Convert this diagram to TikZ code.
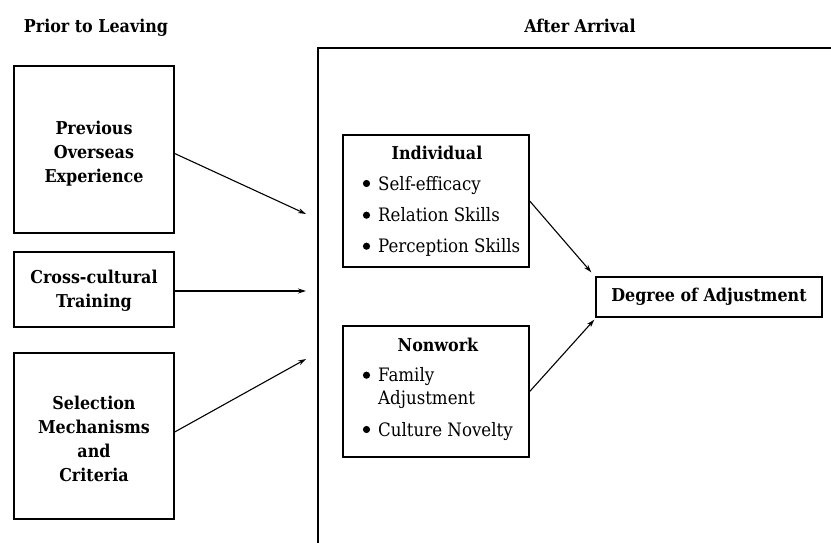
\documentclass[tikz,border=0pt]{standalone}
\usepackage{fontspec}
\setmainfont{DejaVu Serif Condensed}
\usetikzlibrary{arrows.meta}
\tikzset{
  box/.style={draw, line width=1.4pt, inner sep=0pt},
  frame/.style={line width=1.4pt},
  head/.style={font=\fontsize{17.7}{24}\selectfont\bfseries, align=center, inner sep=0pt},
  item/.style={anchor=base west, inner sep=0pt, font=\fontsize{18.5}{24}\selectfont},
  arr/.style={line width=1.1pt, -{Stealth[length=8pt,width=5pt]}},
}
\begin{document}
\begin{tikzpicture}[x=1pt,y=-1pt]
\useasboundingbox (0,0) rectangle (831,543);
% headings
\node[head, anchor=base] (hp) at (96,33) {Prior to Leaving};
\node[head, anchor=base] (ha) at (580,33) {After Arrival};
% left boxes
\node[box, minimum width=160pt, minimum height=167pt] (b1) at (94,149.5) {};
\node[head] (l1) at (94,154) {Previous\\Overseas\\Experience};
\node[box, minimum width=160pt, minimum height=75pt] (b2) at (94,289.5) {};
\node[head] (l2) at (94,291) {Cross-cultural\\Training};
\node[box, minimum width=160pt, minimum height=166pt] (b3) at (94,436) {};
\node[head] (l3) at (94,439) {Selection\\Mechanisms\\and\\Criteria};
% big frame
\coordinate (fa) at (318,543);
\coordinate (fb) at (318,48);
\coordinate (fc) at (831,48);
\draw[frame] (fa) -- (fb) -- (fc);
% arrow ends at frame
\coordinate (e1) at (306,214);
\coordinate (e2) at (306,291);
\coordinate (e3) at (306,359);
\draw[arr] ([yshift=-4pt]b1.east) -- (e1);
\draw[arr] ([yshift=-1.5pt]b2.east) -- (e2);
\draw[arr] ([yshift=4pt]b3.east) -- (e3);
% individual
\node[box, minimum width=186pt, minimum height=132pt] (ind) at (436,201) {};
\node[head, anchor=base] (it) at (437,159) {Individual};
\fill (366.5,183.5) circle (3.6pt);
\node[item] (i1) at (378,190) {Self-efficacy};
\fill (366.5,215.2) circle (3.6pt);
\node[item] (i2) at (378,221.7) {Relation Skills};
\fill (366.5,246.2) circle (3.6pt);
\node[item] (i3) at (378,252.7) {Perception Skills};
% nonwork
\node[box, minimum width=186pt, minimum height=131pt] (nw) at (436,391.5) {};
\node[head, anchor=base] (nt) at (438,351.7) {Nonwork};
\fill (366.5,375.2) circle (3.6pt);
\node[item] (n1) at (378,381.7) {Family};
\node[item] (n2) at (378,404) {Adjustment};
\fill (366.5,429.5) circle (3.6pt);
\node[item] (n3) at (378,436) {Culture Novelty};
% degree
\node[box, head, minimum width=226pt, minimum height=40pt] (deg) at (709,297) {Degree of Adjustment};
\draw[arr] (ind.east) -- ([shift={(-4pt,4pt)}]deg.north west);
\draw[arr] (nw.east) -- ([shift={(-1pt,-2pt)}]deg.south west);
\end{tikzpicture}
\end{document}
